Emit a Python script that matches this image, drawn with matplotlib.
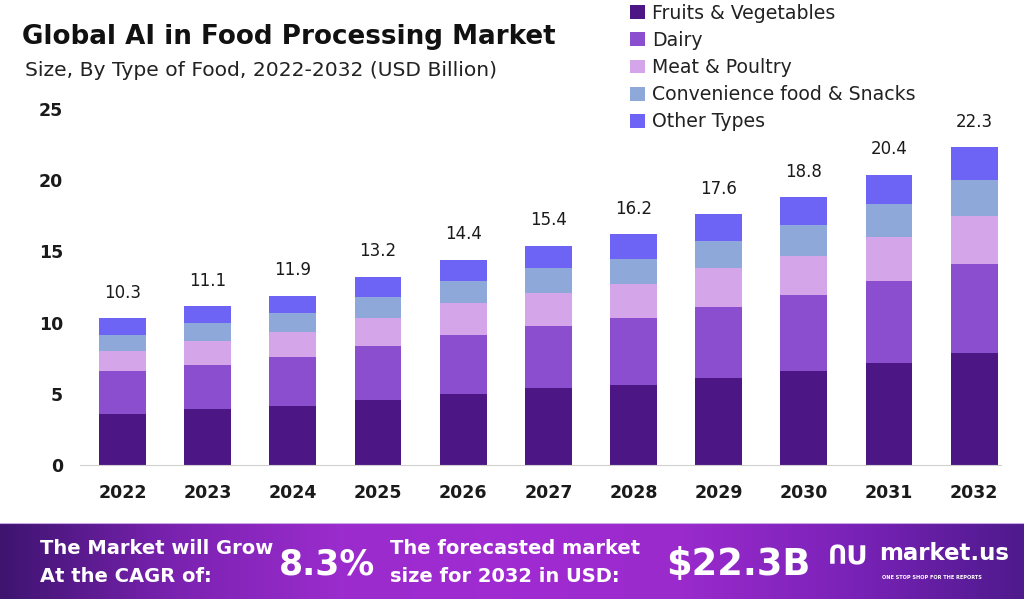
import numpy as np
import matplotlib.pyplot as plt
from matplotlib.colors import LinearSegmentedColormap

#%% data
years = ['2022', '2023', '2024', '2025', '2026', '2027', '2028', '2029', '2030', '2031', '2032']
totals = ['10.3', '11.1', '11.9', '13.2', '14.4', '15.4', '16.2', '17.6', '18.8', '20.4', '22.3']
fruits = [3.6, 3.9, 4.15, 4.6, 5.0, 5.4, 5.65, 6.1, 6.6, 7.15, 7.85]
dairy = [3.0, 3.1, 3.4, 3.75, 4.1, 4.35, 4.65, 5.0, 5.35, 5.75, 6.3]
meat = [1.4, 1.7, 1.8, 2.0, 2.25, 2.35, 2.4, 2.7, 2.75, 3.1, 3.35]
conv = [1.15, 1.25, 1.3, 1.45, 1.55, 1.7, 1.8, 1.95, 2.15, 2.3, 2.5]
other = [1.15, 1.2, 1.25, 1.4, 1.5, 1.6, 1.7, 1.85, 1.95, 2.1, 2.3]

series = [('Fruits & Vegetables', fruits, '#4c1685'),
          ('Dairy', dairy, '#8b4ecf'),
          ('Meat & Poultry', meat, '#d4a5e8'),
          ('Convenience food & Snacks', conv, '#8ea8d9'),
          ('Other Types', other, '#6d64f5')]

cagr = '8.3%'
forecast = '$22.3B'

#%% plot
plt.rcParams['font.family'] = 'DejaVu Sans'
fig = plt.figure(figsize=[10.24, 5.99], dpi=100)
fig.patch.set_facecolor('white')

ax = fig.add_axes([0.078, 0.2237, 0.9, 0.5943])
x = np.arange(len(years))
bottom = np.zeros(len(years))
for name, vals, col in series:
    ax.bar(x, vals, width=0.55, bottom=bottom, color=col, label=name, linewidth=0)
    bottom += np.array(vals)

for xi, top, lab in zip(x, bottom, totals):
    ax.annotate(lab, (xi, top), xytext=(0, 12), textcoords='offset points',
                ha='center', va='bottom', fontsize=12, color='#1a1a1a')

ax.set_xlim(-0.5, 10.32)
ax.set_ylim(0, 25)
ax.set_yticks([0, 5, 10, 15, 20, 25])
ax.set_xticks(x)
ax.set_xticklabels(years, fontsize=12.5, fontweight='bold', color='#1a1a1a')
for lab in ax.get_yticklabels():
    lab.set_fontsize(12.5)
    lab.set_fontweight('bold')
    lab.set_color('#1a1a1a')
ax.tick_params(axis='both', length=0)
ax.tick_params(axis='y', pad=12)
ax.tick_params(axis='x', pad=14)
for s in ['top', 'right', 'left']:
    ax.spines[s].set_visible(False)
ax.spines['bottom'].set_color('#d0d0d0')
ax.set_facecolor('none')

fig.text(0.021, 0.938, 'Global AI in Food Processing Market', fontsize=18.8,
         fontweight='bold', color='#111111', va='center')
fig.text(0.024, 0.882, 'Size, By Type of Food, 2022-2032 (USD Billion)', fontsize=14.6,
         color='#222222', va='center')

fig.legend(loc='upper left', bbox_to_anchor=(0.599, 1.022), frameon=False,
           fontsize=13.6, handlelength=0.75, handleheight=0.75, handletextpad=0.4,
           labelspacing=0.43, labelcolor='#222222')

#%% banner
bax = fig.add_axes([0, 0, 1, 0.127])
cmap = LinearSegmentedColormap.from_list('ban', ['#3e1470', '#7a22b0', '#9b2ccd', '#a02bd2',
                                                 '#9a2acc', '#7a22b8', '#4e1a8c'])
grad = np.linspace(0, 1, 256).reshape(1, -1)
bax.imshow(grad, aspect='auto', cmap=cmap, extent=[0, 1, 0, 1])
bax.axhline(1, color='#c9a6e6', lw=1.5)
bax.set_xlim(0, 1)
bax.set_ylim(0, 1)
bax.axis('off')

bax.text(0.039, 0.66, 'The Market will Grow', fontsize=14, fontweight='bold', color='white', va='center')
bax.text(0.039, 0.30, 'At the CAGR of:', fontsize=14, fontweight='bold', color='white', va='center')
bax.text(0.272, 0.45, cagr, fontsize=25, fontweight='bold', color='white', va='center')
bax.text(0.381, 0.66, 'The forecasted market', fontsize=14, fontweight='bold', color='white', va='center')
bax.text(0.381, 0.30, 'size for 2032 in USD:', fontsize=14, fontweight='bold', color='white', va='center')
bax.text(0.651, 0.45, forecast, fontsize=26.5, fontweight='bold', color='white', va='center')
bax.text(0.808, 0.55, 'ՈՍ', fontsize=19, fontweight='bold', color='white', va='center')
bax.text(0.859, 0.6, 'market.us', fontsize=16.5, fontweight='bold', color='white', va='center')
bax.text(0.861, 0.28, 'ONE STOP SHOP FOR THE REPORTS', fontsize=3.6, fontweight='bold',
         color='white', va='center')

plt.savefig('out.png', dpi=100)
